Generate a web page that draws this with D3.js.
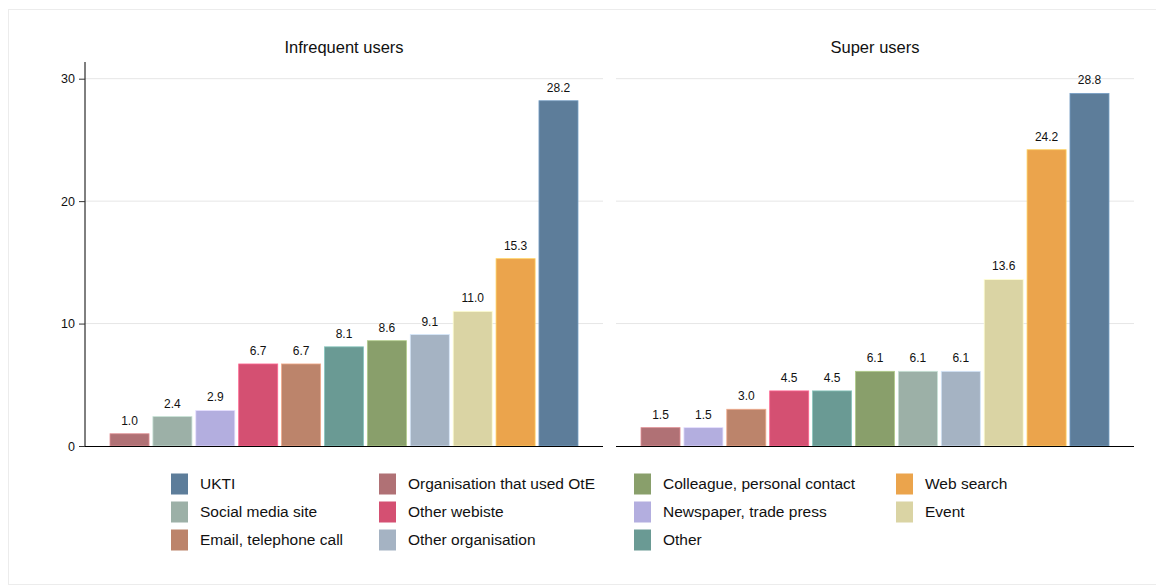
<!DOCTYPE html>
<html>
<head>
<meta charset="utf-8">
<script src="https://cdn.jsdelivr.net/npm/d3@7"></script>
<style>
  body { margin: 0; background: #fff; }
  svg text { font-family: "Liberation Sans", Arial, sans-serif; fill: #111; }
</style>
</head>
<body>
<div id="chart"></div>
<script>
// categorias en el orden de la leyenda
var categories = ["UKTI", "Social media site", "Email, telephone call",
  "Organisation that used OtE", "Other webiste", "Other organisation",
  "Colleague, personal contact", "Newspaper, trade press", "Other",
  "Web search", "Event"];
var colors = ["#5d7d9a", "#9cb0a7", "#bc846b",
  "#b07175", "#d45072", "#a5b3c3",
  "#899f6b", "#b3aedf", "#6a9a94",
  "#eba44c", "#dad4a4"];

// panel 1
var infrequentOrder = ["Organisation that used OtE", "Social media site", "Newspaper, trade press",
  "Other webiste", "Email, telephone call", "Other", "Colleague, personal contact",
  "Other organisation", "Event", "Web search", "UKTI"];
var infrequentValues = [1.0, 2.4, 2.9, 6.7, 6.7, 8.1, 8.6, 9.1, 11.0, 15.3, 28.2];

// panel 2
var superOrder = ["Organisation that used OtE", "Newspaper, trade press", "Email, telephone call",
  "Other webiste", "Other", "Colleague, personal contact", "Social media site",
  "Other organisation", "Event", "Web search", "UKTI"];
var superValues = [1.5, 1.5, 3.0, 4.5, 4.5, 6.1, 6.1, 6.1, 13.6, 24.2, 28.8];

var yTicks = [0, 10, 20, 30];
var panelTitles = ["Infrequent users", "Super users"];

var W = 1156, H = 586;
var svg = d3.select("#chart").append("svg")
    .attr("width", W)
    .attr("height", H);

// marco exterior
svg.append("rect")
    .attr("x", 8.5).attr("y", 9.5)
    .attr("width", 1160).attr("height", 575)
    .attr("fill", "none")
    .attr("stroke", "#ececec");

var color = d3.scaleOrdinal().domain(categories).range(colors);

var y = d3.scaleLinear().domain([0, 30]).range([446, 78.7]);

var panels = [
  { title: panelTitles[0], order: infrequentOrder, values: infrequentValues, x0: 85, x1: 603, axis: true },
  { title: panelTitles[1], order: superOrder, values: superValues, x0: 616, x1: 1134, axis: false }
];

panels.forEach(function(p) {
    var data = p.order.map(function(c, i) { return { cat: c, val: p.values[i] }; });
    var g = svg.append("g");

    var x = d3.scaleBand()
        .domain(data.map(function(d, i) { return i; }))
        .range([p.x0 + 25, p.x1 - 25])
        .paddingInner(0.09)
        .paddingOuter(0);

    // rejilla
    g.selectAll(".grid")
        .data(yTicks.filter(function(t) { return t > 0; }))
        .enter().append("line")
        .attr("x1", p.x0).attr("x2", p.x1)
        .attr("y1", function(d) { return y(d); })
        .attr("y2", function(d) { return y(d); })
        .attr("stroke", "#e6e6e6")
        .attr("stroke-width", 1);

    // titulo
    g.append("text")
        .attr("x", (p.x0 + p.x1) / 2)
        .attr("y", 53)
        .attr("text-anchor", "middle")
        .style("font-size", "16.5px")
        .text(p.title);

    // barras
    g.selectAll(".bar")
        .data(data)
        .enter().append("rect")
        .attr("x", function(d, i) { return x(i); })
        .attr("width", x.bandwidth())
        .attr("y", function(d) { return y(d.val); })
        .attr("height", function(d) { return y(0) - y(d.val); })
        .attr("fill", function(d) { return color(d.cat); })
        .attr("stroke", function(d) { return d3.color(color(d.cat)).brighter(0.7); })
        .attr("stroke-width", 0.8);

    // etiquetas
    g.selectAll(".label")
        .data(data)
        .enter().append("text")
        .attr("x", function(d, i) { return x(i) + x.bandwidth() / 2; })
        .attr("y", function(d) { return y(d.val) - 9; })
        .attr("text-anchor", "middle")
        .style("font-size", "12px")
        .text(function(d) { return d.val.toFixed(1); });

    // eje x
    g.append("line")
        .attr("x1", p.x0).attr("x2", p.x1)
        .attr("y1", y(0) + 0.5).attr("y2", y(0) + 0.5)
        .attr("stroke", "#000")
        .attr("stroke-width", 1.2);

    if (p.axis) {
        var ax = g.append("g")
            .attr("transform", "translate(" + p.x0 + ",0)")
            .call(d3.axisLeft(y).tickValues(yTicks).tickSize(6).tickPadding(4));
        ax.select(".domain").attr("d", "M0," + 62 + "V" + y(0)).attr("stroke", "#000");
        ax.selectAll(".tick line").attr("stroke", "#333");
        ax.selectAll(".tick text")
            .style("font-size", "12.5px")
            .style("font-family", "'Liberation Sans', Arial, sans-serif")
            .attr("fill", "#111");
    }
});

// leyenda (3 filas, por columnas)
var legCols = [171, 379, 634, 896];
var legRows = [473.5, 501.5, 529.5];
var leg = svg.append("g");
categories.forEach(function(c, i) {
    var col = Math.floor(i / 3), row = i % 3;
    var lx = legCols[col], ly = legRows[row];
    leg.append("rect")
        .attr("x", lx).attr("y", ly)
        .attr("width", 17).attr("height", 21)
        .attr("fill", color(c));
    leg.append("text")
        .attr("x", lx + 29)
        .attr("y", ly + 10.5)
        .attr("dy", "0.35em")
        .style("font-size", "15.5px")
        .text(c);
});
</script>
</body>
</html>
